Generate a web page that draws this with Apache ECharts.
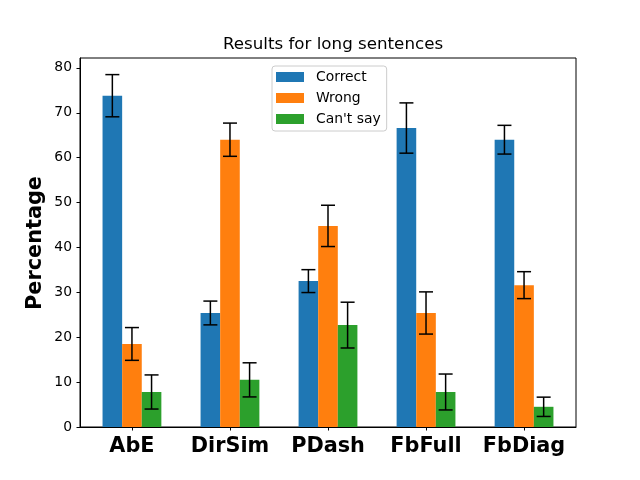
<!DOCTYPE html>
<html>
<head>
<meta charset="utf-8">
<title>Results for long sentences</title>
<style>
  html, body, #chart { margin: 0; padding: 0; width: 640px; height: 480px; background: #fff; }
</style>
</head>
<body>
<div id="chart"></div>
<script src="https://cdn.jsdelivr.net/npm/echarts@6/dist/echarts.min.js"></script>
<script>
// values
var categories = ['AbE', 'DirSim', 'PDash', 'FbFull', 'FbDiag'];
var correct    = [73.8, 25.4, 32.5, 66.6, 64.0];
var correctErr = [4.7, 2.65, 2.55, 5.6, 3.2];
var wrong      = [18.5, 64.0, 44.8, 25.4, 31.6];
var wrongErr   = [3.65, 3.7, 4.6, 4.7, 3.0];
var cantSay    = [7.8, 10.5, 22.7, 7.8, 4.5];
var cantSayErr = [3.8, 3.8, 5.1, 4.0, 2.15];
var yTicks     = [0, 10, 20, 30, 40, 50, 60, 70, 80];

var FONT = 'DejaVu Sans';
var chart = echarts.init(document.getElementById('chart'));

function barSeries(name, vals, color) {
  return {
    name: name,
    type: 'bar',
    barWidth: '20%',
    barGap: '0%',
    itemStyle: { color: color },
    data: vals.map(function (v, i) { return [i, v]; })
  };
}

// error bars drawn through the axes' own coordinate mapping
function errSeries(vals, errs, offset) {
  return {
    type: 'custom',
    silent: true,
    z: 10,
    encode: { x: 0, y: 1 },
    data: vals.map(function (v, i) { return [i, v, errs[i]]; }),
    renderItem: function (params, api) {
      var x = api.value(0) + offset;
      var v = api.value(1), e = api.value(2);
      var hi = api.coord([x, v + e]);
      var lo = api.coord([x, v - e]);
      var cap = 7;
      var st = { stroke: '#000', lineWidth: 1.5 };
      return {
        type: 'group',
        children: [
          { type: 'line', shape: { x1: hi[0], y1: hi[1], x2: lo[0], y2: lo[1] }, style: st },
          { type: 'line', shape: { x1: hi[0] - cap, y1: hi[1], x2: hi[0] + cap, y2: hi[1] }, style: st },
          { type: 'line', shape: { x1: lo[0] - cap, y1: lo[1], x2: lo[0] + cap, y2: lo[1] }, style: st }
        ]
      };
    }
  };
}

chart.setOption({
  animation: false,
  backgroundColor: '#fff',
  textStyle: { fontFamily: FONT },
  title: {
    text: 'Results for long sentences',
    left: 328,
    textAlign: 'center',
    top: 31,
    textStyle: { fontFamily: FONT, fontSize: 16.7, fontWeight: 'normal', color: '#000' }
  },
  // y axis title
  graphic: [{
    type: 'text',
    x: 36,
    y: 243,
    rotation: Math.PI / 2,
    style: {
      text: 'Percentage',
      align: 'center',
      verticalAlign: 'middle',
      fontFamily: FONT, fontSize: 20.8, fontWeight: 'bold', fill: '#000'
    }
  }],
  legend: {
    data: ['Correct', 'Wrong', "Can't say"],
    orient: 'vertical',
    left: 272,
    top: 66,
    padding: [4, 6, 5, 4],
    itemWidth: 28,
    itemHeight: 10,
    itemGap: 7,
    icon: 'rect',
    backgroundColor: 'rgba(255,255,255,0.8)',
    borderColor: '#ccc',
    borderWidth: 1,
    borderRadius: 3,
    textStyle: { fontFamily: FONT, fontSize: 13.9, color: '#000', lineHeight: 14, padding: [0, 0, 0, 7] }
  },
  grid: {
    left: 80, right: 64, top: 58, bottom: 53,
    show: true, borderColor: '#000', borderWidth: 1
  },
  xAxis: {
    type: 'value',
    min: -0.53,
    max: 4.53,
    splitLine: { show: false },
    axisLine: { show: true, onZero: false, lineStyle: { color: '#000', width: 1 } },
    axisTick: {
      show: true, length: 3.5, lineStyle: { color: '#000' },
      customValues: categories.map(function (c, i) { return i; })
    },
    axisLabel: {
      margin: 9,
      fontFamily: FONT, fontSize: 20.8, fontWeight: 'bold', color: '#000',
      customValues: categories.map(function (c, i) { return i; }),
      formatter: function (v) { return categories[Math.round(v)] || ''; }
    }
  },
  yAxis: {
    type: 'value',
    min: 0,
    max: 82.2,
    splitLine: { show: false },
    axisLine: { show: true, onZero: false, lineStyle: { color: '#000', width: 1 } },
    axisTick: { show: true, length: 3.5, lineStyle: { color: '#000' }, customValues: yTicks },
    axisLabel: {
      margin: 8,
      fontFamily: FONT, fontSize: 13.9, color: '#000',
      customValues: yTicks
    }
  },
  series: [
    barSeries('Correct', correct, '#1f77b4'),
    barSeries('Wrong', wrong, '#ff7f0e'),
    barSeries("Can't say", cantSay, '#2ca02c'),
    errSeries(correct, correctErr, -0.2),
    errSeries(wrong, wrongErr, 0),
    errSeries(cantSay, cantSayErr, 0.2)
  ]
});
</script>
</body>
</html>
